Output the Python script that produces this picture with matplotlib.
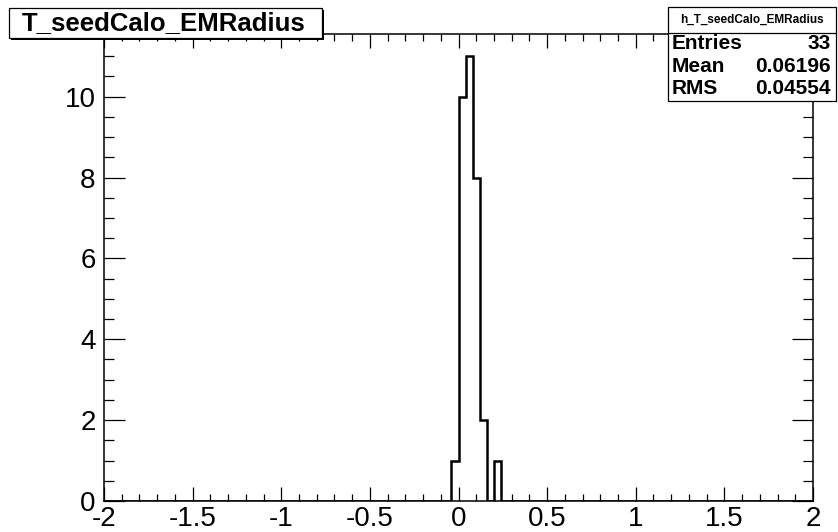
import numpy as np
import matplotlib
matplotlib.use("Agg")
import matplotlib.pyplot as plt
from matplotlib.patches import Rectangle
from matplotlib.ticker import MultipleLocator

# Histogram definition: 100 bins on [-2, 2]
x_min, x_max, n_bins = -2.0, 2.0, 100
# Filled bins start at x = -0.04 (one count per bin, consecutive)
filled_start = -0.04
filled_counts = [1, 10, 11, 8, 2, 0, 1]

hist_name = "h_T_seedCalo_EMRadius"
hist_title = "T_seedCalo_EMRadius"
stat_labels = ["Entries", "Mean", "RMS"]
stat_values = ["33", "0.06196", "0.04554"]

edges = np.linspace(x_min, x_max, n_bins + 1)
counts = np.zeros(n_bins)
first = int(round((filled_start - x_min) / (edges[1] - edges[0])))
counts[first:first + len(filled_counts)] = filled_counts

W, H = 838, 532
plt.rcParams["font.family"] = ["Liberation Sans", "DejaVu Sans"]
fig = plt.figure(figsize=(W / 100, H / 100), dpi=100)


def fx(px):
    return px / W


def fy(py):
    return 1 - py / H


ax = fig.add_axes([fx(104), fy(501), fx(813) - fx(104), fy(34) - fy(501)])
ax.stairs(counts, edges, color="black", linewidth=1.8, baseline=0)
ax.set_xlim(x_min, x_max)
ax.set_ylim(0, counts.max() * 1.05)

ax.xaxis.set_major_locator(MultipleLocator(0.5))
ax.xaxis.set_minor_locator(MultipleLocator(0.1))
ax.yaxis.set_major_locator(MultipleLocator(2))
ax.yaxis.set_minor_locator(MultipleLocator(0.5))
ax.tick_params(axis="x", which="major", direction="in", length=10, width=0.9,
               top=True, labelsize=20, pad=3.5)
ax.tick_params(axis="x", which="minor", direction="in", length=5, width=0.9, top=True)
ax.tick_params(axis="y", which="major", direction="in", length=15, width=0.9,
               right=True, labelsize=20, pad=6)
ax.tick_params(axis="y", which="minor", direction="in", length=7.5, width=0.9, right=True)
ax.set_xticklabels([f"{v:g}" for v in ax.get_xticks()])
for s in ax.spines.values():
    s.set_linewidth(1.1)

# Title box with drop shadow
def boxed(x0, y0, x1, y1, shadow=2):
    fig.add_artist(Rectangle((fx(x0 + shadow), fy(y1 + shadow)),
                             fx(x1 - x0), fy(y0) - fy(y1),
                             transform=fig.transFigure, facecolor="black",
                             edgecolor="none", zorder=5))
    fig.add_artist(Rectangle((fx(x0), fy(y1)), fx(x1 - x0), fy(y0) - fy(y1),
                             transform=fig.transFigure, facecolor="white",
                             edgecolor="black", linewidth=0.9, zorder=6))

boxed(9, 8, 322, 38)
fig.text(fx(164), fy(23), hist_title, ha="center", va="center",
         fontsize=18.5, fontweight="bold", zorder=7)

# Statistics box
boxed(668, 7, 836, 101, shadow=1)
fig.add_artist(plt.Line2D([fx(668), fx(836)], [fy(33), fy(33)],
                          transform=fig.transFigure, color="black",
                          linewidth=0.9, zorder=7))
fig.text(fx(752), fy(20), hist_name, ha="center", va="center",
         fontsize=8.5, fontweight="bold", zorder=7)
for i, (lab, val) in enumerate(zip(stat_labels, stat_values)):
    yy = fy(44 + i * 22)
    fig.text(fx(672), yy, lab, ha="left", va="center", fontsize=15,
             fontweight="bold", zorder=7)
    fig.text(fx(831), yy, val, ha="right", va="center", fontsize=15,
             fontweight="bold", zorder=7)

fig.savefig("out.png", dpi=100)
